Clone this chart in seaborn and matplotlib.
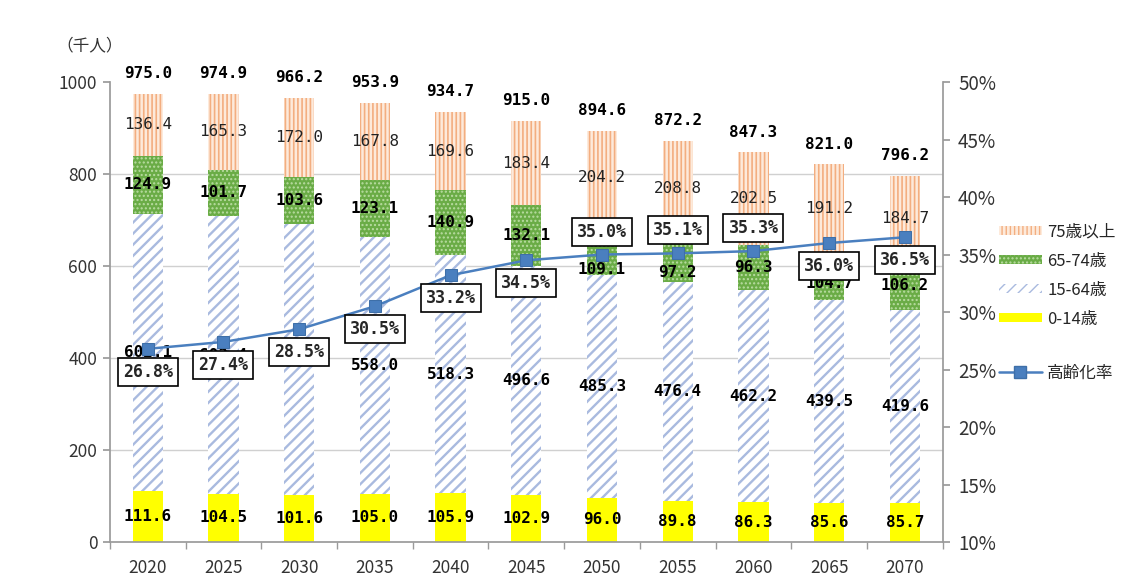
import matplotlib
matplotlib.use("Agg")
import matplotlib.pyplot as plt
import seaborn as sns
import numpy as np
import pandas as pd
from matplotlib.patches import Patch
from matplotlib.lines import Line2D

years = ["2020", "2025", "2030", "2035", "2040", "2045", "2050", "2055", "2060", "2065", "2070"]
age_0_14 = [111.6, 104.5, 101.6, 105.0, 105.9, 102.9, 96.0, 89.8, 86.3, 85.6, 85.7]
age_15_64 = [602.1, 603.4, 589.0, 558.0, 518.3, 496.6, 485.3, 476.4, 462.2, 439.5, 419.6]
age_65_74 = [124.9, 101.7, 103.6, 123.1, 140.9, 132.1, 109.1, 97.2, 96.3, 104.7, 106.2]
age_75_over = [136.4, 165.3, 172.0, 167.8, 169.6, 183.4, 204.2, 208.8, 202.5, 191.2, 184.7]
totals = [975.0, 974.9, 966.2, 953.9, 934.7, 915.0, 894.6, 872.2, 847.3, 821.0, 796.2]
aging_rate = [26.8, 27.4, 28.5, 30.5, 33.2, 34.5, 35.0, 35.1, 35.3, 36.0, 36.5]

# label placement tweaks (layout only)
rate_label_above = [False, False, False, False, False, False, True, True, True, False, False]
label_65_74_shift = [0, 0, 0, 0, 0, 0, -43, -28, 0, -15, 0]

sns.set_theme(style="white")
plt.rcParams["font.family"] = ["Noto Sans CJK JP", "DejaVu Sans"]

fig = plt.figure(figsize=(11.21, 5.83), dpi=100)
ax = fig.add_axes([0.098, 0.0703, 0.743, 0.7890])

df = pd.DataFrame({
    "year": years,
    "a": age_0_14,
    "b": age_15_64,
    "c": age_65_74,
    "d": age_75_over,
})
df["cum_a"] = df["a"]
df["cum_b"] = df["cum_a"] + df["b"]
df["cum_c"] = df["cum_b"] + df["c"]
df["cum_d"] = df["cum_c"] + df["d"]

# face colour, hatch, hatch colour, hatch line width
styles = {
    "cum_d": ("#fdeadb", "||||", "#f3ae80", 1.2),
    "cum_c": ("#6aac46", "....", "#b9dca2", 1.0),
    "cum_b": ("#ffffff", "///", "#a9badf", 1.7),
    "cum_a": ("#ffff00", None, "#ffff00", 1.0),
}

# draw cumulative stacks tallest first; each shorter layer covers the lower part
for col in ["cum_d", "cum_c", "cum_b", "cum_a"]:
    face, hatch, hc, hlw = styles[col]
    with plt.rc_context({"hatch.linewidth": hlw}):
        sns.barplot(data=df, x="year", y=col, order=years, color=face, width=0.4,
                    saturation=1, ax=ax, zorder=2)
        for p in ax.containers[-1]:
            p.set_facecolor(face)
            p.set_edgecolor(hc)
            p.set_linewidth(0)
            if hatch:
                p.set_hatch(hatch)
            if hasattr(p, "set_hatch_linewidth"):
                p.set_hatch_linewidth(hlw)

ax.set_xlim(-0.5, 10.5)
ax.set_ylim(0, 1000)
ax.set_yticks([0, 200, 400, 600, 800, 1000])
ax.set_xlabel("")
ax.set_ylabel("")
for y in [200, 400, 600, 800]:
    ax.axhline(y, color="#d0d0d0", lw=1.0, zorder=0)

for s in ["top", "right"]:
    ax.spines[s].set_visible(False)
ax.spines["left"].set_color("#9a9a9a")
ax.spines["bottom"].set_color("#9a9a9a")
ax.tick_params(axis="y", left=True, length=5, color="#9a9a9a", labelsize=12.5,
               labelcolor="#333333", pad=4)
ax.tick_params(axis="x", bottom=False, labelsize=12.5, labelcolor="#333333", pad=6)
ax.set_xticks(np.arange(-0.5, 11, 1), minor=True)
ax.tick_params(axis="x", which="minor", bottom=True, length=5, color="#9a9a9a")

mono = ["DejaVu Sans Mono"]
for i in range(len(years)):
    ax.text(i, age_0_14[i] / 2, f"{age_0_14[i]:.1f}", ha="center", va="center",
            fontsize=11.5, color="black", zorder=5, family=mono, fontweight="bold")
    ax.text(i, df["cum_a"][i] + age_15_64[i] / 2, f"{age_15_64[i]:.1f}", ha="center",
            va="center", fontsize=11.5, color="black", zorder=5, family=mono,
            fontweight="bold")
    ax.text(i, df["cum_b"][i] + age_65_74[i] / 2 + label_65_74_shift[i],
            f"{age_65_74[i]:.1f}", ha="center", va="center", fontsize=11.5,
            color="black", zorder=5, family=mono, fontweight="bold")
    ax.text(i, df["cum_c"][i] + age_75_over[i] / 2, f"{age_75_over[i]:.1f}", ha="center",
            va="center", fontsize=11.5, color="#222222", zorder=5, family=mono)
    ax.text(i, totals[i] + 44, f"{totals[i]:.1f}", ha="center", va="center",
            fontsize=11.5, color="black", zorder=5, family=mono, fontweight="bold")

fig.text(0.050, 0.922, "（千人）", ha="left", va="center", fontsize=12, color="#333333")

# aging-rate line on the secondary axis
ax2 = ax.twinx()
rate_df = pd.DataFrame({"pos": np.arange(len(years)), "rate": aging_rate})
sns.lineplot(data=rate_df, x="pos", y="rate", ax=ax2, color="#4a7fbf", lw=1.8,
             marker="s", markersize=8, markeredgecolor="#3e6fa8", zorder=6)
ax2.set_xlim(-0.5, 10.5)
ax2.set_ylim(10, 50)
ax2.set_yticks(range(10, 51, 5))
ax2.set_yticklabels([f"{v}%" for v in range(10, 51, 5)])
ax2.set_ylabel("")
ax2.set_xlabel("")
for s in ["top", "left", "bottom"]:
    ax2.spines[s].set_visible(False)
ax2.spines["right"].set_color("#9a9a9a")
ax2.tick_params(axis="y", right=True, length=5, color="#9a9a9a", labelsize=13.5,
                labelcolor="#333333", pad=6)

for i, r in enumerate(aging_rate):
    dy = 16.5 if rate_label_above[i] else -16.5
    ax2.annotate(f"{r:.1f}%", xy=(i, r), xytext=(0, dy), textcoords="offset points",
                 ha="center", va="center", fontsize=12, zorder=8,
                 family=mono, fontweight="bold",
                 bbox=dict(boxstyle="square,pad=0.3", fc="white", ec="black", lw=1.2))

handles = [
    Patch(facecolor="#fdeadb", edgecolor="#f3ae80", hatch="||||", lw=0, label="75歳以上"),
    Patch(facecolor="#6aac46", edgecolor="#b9dca2", hatch="....", lw=0, label="65-74歳"),
    Patch(facecolor="#ffffff", edgecolor="#a9badf", hatch="///", lw=0, label="15-64歳"),
    Patch(facecolor="#ffff00", edgecolor="#ffff00", lw=0, label="0-14歳"),
]
fig.legend(handles=handles, loc="upper left", bbox_to_anchor=(0.885, 0.628),
           frameon=False, fontsize=12, handlelength=2.6, handleheight=0.5,
           handletextpad=0.3, labelspacing=0.72, borderaxespad=0)
line_handle = [Line2D([0], [0], color="#4a7fbf", lw=1.8, marker="s", markersize=8,
                      markeredgecolor="#3e6fa8", label="高齢化率")]
fig.legend(handles=line_handle, loc="upper left", bbox_to_anchor=(0.885, 0.385),
           frameon=False, fontsize=12, handlelength=2.6, handletextpad=0.3,
           borderaxespad=0)

fig.savefig("out.png", dpi=100)
